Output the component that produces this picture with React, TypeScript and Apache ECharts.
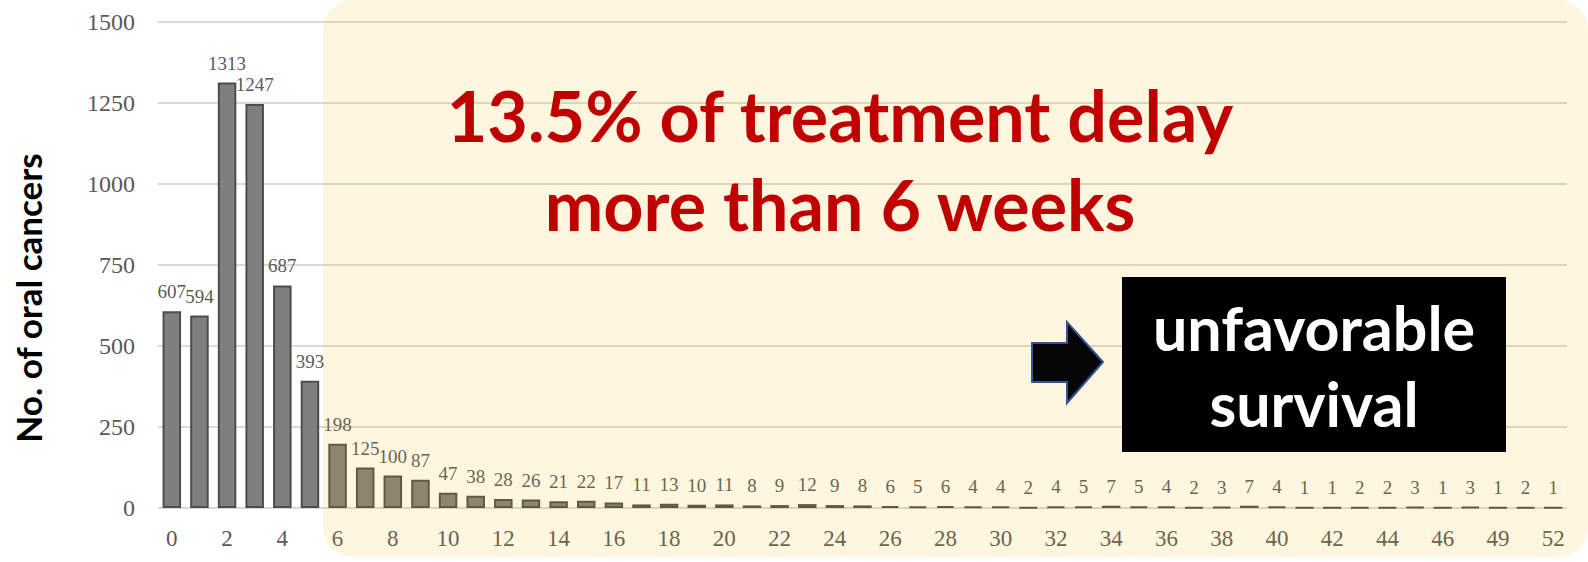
import React, { useEffect, useRef } from "react";
import * as echarts from "echarts";

// Weeks from diagnosis to treatment (category axis)
const weeks: string[] = [
  "0", "1", "2", "3", "4", "5", "6", "7", "8", "9", "10", "11", "12", "13", "14", "15",
  "16", "17", "18", "19", "20", "21", "22", "23", "24", "25", "26", "27", "28", "29", "30",
  "31", "32", "33", "34", "35", "36", "37", "38", "39", "40", "41", "42", "43", "44", "45",
  "46", "47", "49", "50", "52",
];

// Number of oral cancers per week
const counts: number[] = [
  607, 594, 1313, 1247, 687, 393, 198, 125, 100, 87, 47, 38, 28, 26, 21, 22, 17, 11, 13, 10,
  11, 8, 9, 12, 9, 8, 6, 5, 6, 4, 4, 2, 4, 5, 7, 5, 4, 2, 3, 7, 4, 1, 1, 2, 2, 3, 1, 3, 1, 2, 1,
];

const yTicks = { min: 0, max: 1500, step: 250 };

const headline: string[] = ["13.5% of treatment delay", "more than 6 weeks"];
const outcome: string[] = ["unfavorable", "survival"];
const yTitle = "No. of oral cancers";

const SERIF = "'Liberation Serif', 'Times New Roman', serif";
const SANS = "Lato, 'Open Sans', 'Noto Sans', sans-serif";

function centeredText(text: string, x: number, y: number, size: number, fill: string, z: number, rotation = 0) {
  return {
    type: "text",
    z,
    x,
    y,
    rotation,
    style: {
      text,
      x: 0,
      y: 0,
      fill,
      fontFamily: SANS,
      fontWeight: "bold",
      fontSize: size,
      align: "center",
      verticalAlign: "middle",
      textAlign: "center",
      textVerticalAlign: "middle",
    },
  } as any;
}

export default function App() {
  const ref = useRef<HTMLDivElement>(null);

  useEffect(() => {
    if (!ref.current) return;
    const chart = echarts.init(ref.current, undefined, { renderer: "svg" });

    const option: any = {
      animation: false,
      backgroundColor: "#ffffff",
      grid: {
        left: 158,
        right: 21,
        top: 22,
        bottom: 54,
        containLabel: false,
        outerBoundsMode: "none",
      },
      xAxis: {
        type: "category",
        data: weeks,
        axisLine: { show: false },
        axisTick: { show: false },
        axisLabel: {
          interval: 1,
          margin: 19,
          fontFamily: SERIF,
          fontSize: 23,
          color: "#595959",
        },
      },
      yAxis: {
        type: "value",
        min: yTicks.min,
        max: yTicks.max,
        interval: yTicks.step,
        axisLine: { show: false },
        axisTick: { show: false },
        axisLabel: {
          margin: 23,
          fontFamily: SERIF,
          fontSize: 24,
          color: "#595959",
          formatter: (v: number) => String(v),
        },
        splitLine: { lineStyle: { color: "#d9d9d9", width: 2 } },
      },
      series: [
        {
          type: "bar",
          data: counts,
          barCategoryGap: "33%",
          itemStyle: { color: "#7f7f7f", borderColor: "#4d4d4d", borderWidth: 2 },
          label: {
            show: true,
            position: "top",
            distance: 10,
            fontFamily: SERIF,
            fontSize: 19,
            color: "#595959",
          },
        },
      ],
      graphic: [
        // y-axis title
        centeredText(yTitle, 28, 298, 35, "#000000", 90, Math.PI / 2),
        // highlighted region: delays of 6 weeks and more
        {
          type: "rect",
          z: 100,
          shape: { x: 323, y: 0, width: 1265, height: 557, r: 30 },
          style: { fill: "rgba(255,180,0,0.12)" },
          silent: true,
        },
        centeredText(headline[0], 840, 115, 70, "#c00000", 110),
        centeredText(headline[1], 840, 204, 70, "#c00000", 110),
        // arrow pointing to the outcome box
        {
          type: "polygon",
          z: 110,
          shape: {
            points: [
              [1032, 343],
              [1067, 343],
              [1067, 322],
              [1103, 362],
              [1067, 403],
              [1067, 382],
              [1032, 382],
            ],
          },
          style: { fill: "#050505", stroke: "#2f5597", lineWidth: 2 },
        },
        {
          type: "rect",
          z: 110,
          shape: { x: 1122, y: 277, width: 384, height: 175 },
          style: { fill: "#000000" },
        },
        centeredText(outcome[0], 1314, 327, 61, "#ffffff", 111),
        centeredText(outcome[1], 1314, 403, 61, "#ffffff", 111),
      ],
    };

    chart.setOption(option);
    return () => chart.dispose();
  }, []);

  return (
    <div
      ref={ref}
      style={{ position: "absolute", left: 0, top: 0, width: 1588, height: 562 }}
    />
  );
}
